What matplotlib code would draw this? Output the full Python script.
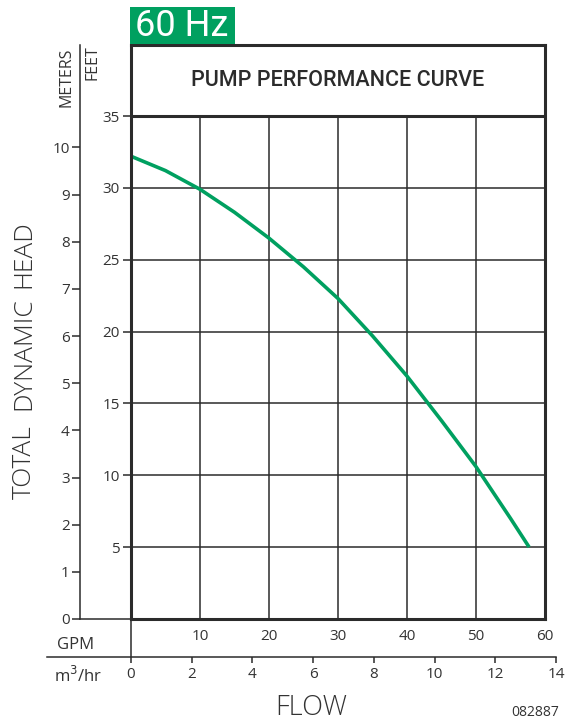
import matplotlib
matplotlib.use("Agg")
import matplotlib.pyplot as plt
from matplotlib.patches import Rectangle

# pump curve (flow in GPM, head in feet)
flow_gpm = [0, 5, 10, 15, 20, 25, 30, 35, 40, 45, 50, 55, 57.7]
head_ft = [32.2, 31.2, 29.9, 28.3, 26.5, 24.5, 22.3, 19.7, 16.9, 13.8, 10.6, 7.0, 5.0]

gpm_ticks = [10, 20, 30, 40, 50, 60]
feet_ticks = [5, 10, 15, 20, 25, 30, 35]
meter_ticks = list(range(0, 11))
m3hr_ticks = list(range(0, 15, 2))
ylabel_words = ["TOTAL", "DYNAMIC", "HEAD"]

GPM_PER_M3HR = 4.40287
FT_PER_M = 3.28084

GREEN = "#00a060"
INK = "#2b2b2b"
TXT = "#333333"

W, H = 566, 724
plt.rcParams['font.family'] = ['Open Sans', 'DejaVu Sans']


def box(x0, y0, x1, y1):
    # pixel rectangle (top-left origin) -> figure fraction
    return [x0 / W, 1 - y1 / H, (x1 - x0) / W, (y1 - y0) / H]


fig = plt.figure(figsize=(W / 100, H / 100), dpi=100)

# main plot: x 131..545 px, y 45..619 px (35 ft line at 116 px)
ft_px = (619 - 116) / 35
top_ft = (619 - 45) / ft_px
ax = fig.add_axes(box(131, 45, 545, 619))
ax.set_xlim(0, 60)
ax.set_ylim(0, top_ft)
for s in ax.spines.values():
    s.set_linewidth(2.2)
    s.set_color(INK)
ax.axhline(35, color=INK, lw=2.2)
ax.vlines(gpm_ticks[:-1], 0, 35, color=INK, lw=1.1)
ax.hlines(feet_ticks[:-1], 0, 60, color=INK, lw=1.1)
ax.plot(flow_gpm, head_ft, color=GREEN, lw=2.6, solid_capstyle="butt")
ax.text(30, 35 + (top_ft - 35) / 2, "PUMP PERFORMANCE CURVE", ha="center", va="center",
        fontsize=15.5, family=["Roboto", "DejaVu Sans"], weight="medium", color=INK)

ax.set_yticks(feet_ticks)
ax.set_yticklabels([str(v) for v in feet_ticks])
ax.tick_params(axis="y", length=6, width=1.1, color=INK, pad=2, labelsize=11, labelcolor=TXT)
ax.set_xticks(gpm_ticks)
ax.set_xticklabels([str(v) for v in gpm_ticks])
ax.tick_params(axis="x", length=0, pad=7, labelsize=11, labelcolor=TXT)
ax.set_xticks([60], minor=True)
ax.tick_params(axis="x", which="minor", length=4, width=2.2, color=INK)

# meters scale
ax_m = fig.add_axes(box(80, 45, 131, 619))
ax_m.set_ylim(0, top_ft / FT_PER_M)
ax_m.set_xlim(0, 1)
ax_m.set_xticks([])
ax_m.spines["right"].set_visible(False)
ax_m.spines["top"].set_visible(False)
for side in ["left", "bottom"]:
    ax_m.spines[side].set_linewidth(1.1)
    ax_m.spines[side].set_color(INK)
ax_m.patch.set_alpha(0)
ax_m.set_yticks(meter_ticks)
ax_m.set_yticklabels([str(v) for v in meter_ticks])
ax_m.tick_params(axis="y", length=5.5, width=1.1, color=INK, pad=2, labelsize=11, labelcolor=TXT)

# m3/hr scale under the GPM row
px_per_m3 = 414 / (60 / GPM_PER_M3HR)
ax_q = fig.add_axes(box(47, 619, 556, 657))
ax_q.set_xlim(-(131 - 47) / px_per_m3, (556 - 131) / px_per_m3)
ax_q.set_ylim(0, 1)
ax_q.set_yticks([])
for side in ["left", "right", "top"]:
    ax_q.spines[side].set_visible(False)
ax_q.spines["bottom"].set_linewidth(1.1)
ax_q.spines["bottom"].set_color(INK)
ax_q.patch.set_alpha(0)
ax_q.axvline(0, color=INK, lw=1.1)
ax_q.set_xticks(m3hr_ticks)
ax_q.set_xticklabels([str(v) for v in m3hr_ticks])
ax_q.tick_params(axis="x", length=4, width=1.1, color=INK, pad=3, labelsize=11, labelcolor=TXT)

# vertical axis title, one word at a time
for word, yc in zip(ylabel_words, [462, 354, 254]):
    fig.text(24 / W, 1 - yc / H, word, rotation=90, ha="center", va="center",
             fontsize=19, weight="light", color=TXT)

fig.text(66 / W, 1 - 77 / H, "METERS", rotation=90, ha="center", va="center", fontsize=11.5, color=TXT)
fig.text(93 / W, 1 - 63 / H, "FEET", rotation=90, ha="center", va="center", fontsize=11.5, color=TXT)
fig.text(76 / W, 1 - 645 / H, "GPM", ha="center", va="center", fontsize=12, color=TXT)
fig.text(78 / W, 1 - 676 / H, "m$^3$/hr", ha="center", va="center", fontsize=12, color=TXT)
fig.text(311 / W, 1 - 708 / H, "FLOW", ha="center", va="center", fontsize=19.5, weight="light", color=TXT)
fig.text(535 / W, 1 - 712 / H, "082887", ha="center", va="center", fontsize=10, color=TXT)

# 60 Hz badge
fig.add_artist(Rectangle((130 / W, 1 - 44 / H), 105 / W, 37 / H, transform=fig.transFigure,
                         facecolor=GREEN, edgecolor="none"))
fig.text(182 / W, 1 - 26 / H, "60 Hz", ha="center", va="center", fontsize=26,
         family=["Roboto", "DejaVu Sans"], weight="regular", color="white")

fig.savefig("out.png", dpi=100)
